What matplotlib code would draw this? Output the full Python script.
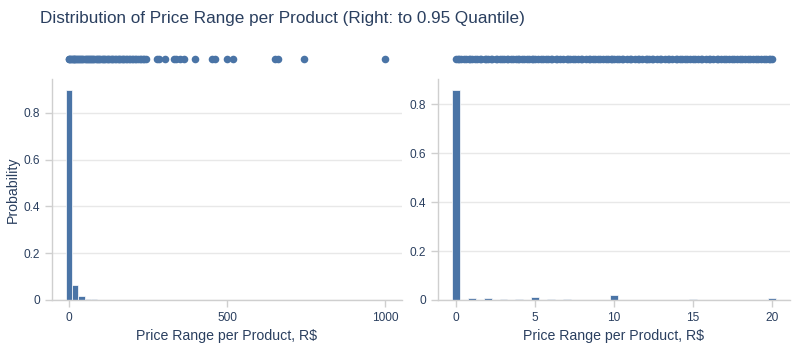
import matplotlib.pyplot as plt
from matplotlib.ticker import FuncFormatter

plt.rcParams['font.family'] = ['Liberation Sans', 'DejaVu Sans']

# Full range: histogram bins of width 20 (centers) and probabilities
full_bins = [0, 20, 40, 60, 80, 100, 120, 140, 160, 180, 200]
full_prob = [0.897, 0.063, 0.016, 0.006, 0.003, 0.002, 0.0015, 0.001, 0.0008, 0.0006, 0.0005]

# Full range: individual price ranges shown in the strip above
full_points = [0, 2, 5, 7, 10, 13, 15, 18, 20, 24, 27, 30, 33, 36, 40, 43, 46, 50,
               53, 57, 60, 64, 67, 70, 74, 78, 81, 85, 89, 92, 96, 100, 104, 108,
               112, 116, 120, 124, 128, 132, 137, 141, 145, 150, 154, 158, 163,
               167, 172, 176, 181, 185, 190, 195, 199, 204, 209, 214, 219, 224,
               229, 234, 239, 245,
               278, 284, 304, 332, 340, 351, 364, 399, 452, 462, 499, 520,
               652, 662, 742, 1000]

# Up to the 0.95 quantile: bins of width 0.5 (centers) and probabilities
q_bins = [0, 1, 2, 3, 4, 5, 6, 7, 8, 9, 10, 11, 12, 13, 14, 15, 16, 17, 18, 19, 20]
q_prob = [0.857, 0.007, 0.007, 0.004, 0.006, 0.012, 0.004, 0.004, 0.002, 0.002, 0.022,
          0.001, 0.001, 0.001, 0.001, 0.005, 0.001, 0.001, 0.001, 0.001, 0.009]

q_points = [0, 0.1, 0.2, 0.3, 0.5, 0.6, 0.8, 0.9, 1.0, 1.2, 1.3, 1.5, 1.6, 1.8, 1.9,
            2.0, 2.2, 2.3, 2.5, 2.6, 2.8, 2.9, 3.0, 3.2, 3.3, 3.5, 3.6, 3.8, 3.9,
            4.0, 4.2, 4.3, 4.5, 4.6, 4.8, 4.9, 5.0, 5.2, 5.4, 5.5, 5.7, 5.8, 6.0,
            6.1, 6.3, 6.4, 6.6, 6.8, 7.0, 7.1, 7.2, 7.4, 7.5, 7.7, 7.9, 8.0, 8.2,
            8.4, 8.5, 8.7, 8.8, 9.0, 9.1, 9.3, 9.5, 9.6, 9.8, 9.9, 10.0, 10.2,
            10.3, 10.5, 10.6, 10.8, 11.0, 11.1, 11.3, 11.5, 11.6, 11.8, 12.0,
            12.1, 12.2, 12.4, 12.5, 12.7, 12.9, 13.0, 13.2, 13.4, 13.5, 13.7,
            13.9, 14.0, 14.2, 14.3, 14.5, 14.6, 14.8, 15.0, 15.1, 15.3, 15.5,
            15.6, 15.8, 16.0, 16.1, 16.3, 16.5, 16.6, 16.8, 17.0, 17.1, 17.3,
            17.5, 17.6, 17.8, 18.0, 18.1, 18.3, 18.5, 18.6, 18.8, 19.0, 19.1,
            19.3, 19.5, 19.6, 19.8, 19.9, 20.0]

bar_color = '#4a74a6'
text_color = '#2a3f5f'
line_color = '#cfcfcf'
grid_color = '#e8e8e8'
xlabel = r'Price Range per Product, R\$'

fig = plt.figure(figsize=(8, 3.5), dpi=100)
fig.text(40 / 800, 1 - 19 / 350, 'Distribution of Price Range per Product (Right: to 0.95 Quantile)',
         fontsize=12.3, color=text_color, va='center', ha='left')


def style_hist(ax):
    for side in ['top', 'right']:
        ax.spines[side].set_visible(False)
    for side in ['left', 'bottom']:
        ax.spines[side].set_color(line_color)
        ax.spines[side].set_linewidth(1)
    ax.tick_params(colors=line_color, labelcolor=text_color, labelsize=8.6, length=5, width=1)
    ax.grid(axis='y', color=grid_color, linewidth=1)
    ax.set_axisbelow(True)
    ax.yaxis.set_major_formatter(FuncFormatter(lambda v, p: f'{v:g}'))
    ax.set_xlabel(xlabel, fontsize=10.2, color=text_color, labelpad=4)


def style_strip(ax):
    ax.set_ylim(-1, 1)
    ax.axis('off')


# Left: full distribution
ax1 = fig.add_axes([52 / 800, 50 / 350, 350 / 800, 221 / 350])
ax1.bar(full_bins, full_prob, width=20, color=bar_color, edgecolor='white', linewidth=0.5)
ax1.set_xlim(-53, 1053)
ax1.set_ylim(0, 0.944)
ax1.set_xticks([0, 500, 1000])
ax1.set_yticks([0, 0.2, 0.4, 0.6, 0.8])
ax1.set_ylabel('Probability', fontsize=10.2, color=text_color)
ax1.yaxis.set_label_coords(-0.092, 0.5)
style_hist(ax1)

s1 = fig.add_axes([52 / 800, 280 / 350, 350 / 800, 22 / 350], sharex=ax1)
s1.scatter(full_points, [0] * len(full_points), s=30, color=bar_color, linewidths=0)
style_strip(s1)

# Right: up to the 0.95 quantile
ax2 = fig.add_axes([438 / 800, 50 / 350, 352 / 800, 221 / 350])
ax2.bar(q_bins, q_prob, width=0.5, color=bar_color, edgecolor='white', linewidth=0.5)
ax2.set_xlim(-1.15, 21.15)
ax2.set_ylim(0, 0.903)
ax2.set_xticks([0, 5, 10, 15, 20])
ax2.set_yticks([0, 0.2, 0.4, 0.6, 0.8])
style_hist(ax2)

s2 = fig.add_axes([438 / 800, 280 / 350, 352 / 800, 22 / 350], sharex=ax2)
s2.scatter(q_points, [0] * len(q_points), s=30, color=bar_color, linewidths=0)
style_strip(s2)

fig.savefig('out.png', dpi=100)
